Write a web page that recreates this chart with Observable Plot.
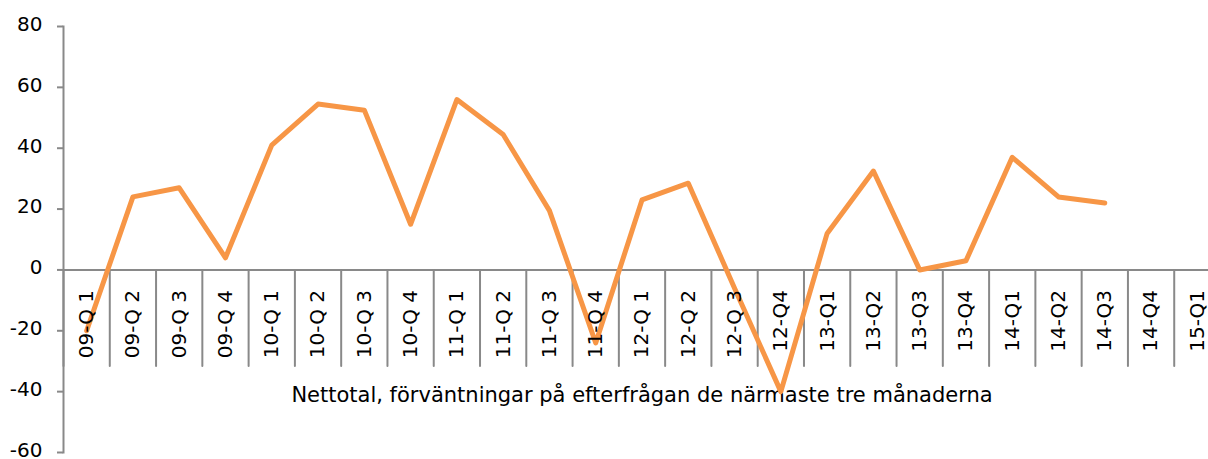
<!DOCTYPE html>
<html>
<head>
<meta charset="utf-8">
<script src="https://cdn.jsdelivr.net/npm/d3@7"></script>
<script src="https://cdn.jsdelivr.net/npm/@observablehq/plot@0.6"></script>
<style>
  html, body { margin: 0; padding: 0; background: #fff; }
  #chart svg { display: block; }
</style>
</head>
<body>
<div id="chart"></div>
<script>
const categories = ["09-Q 1","09-Q 2","09-Q 3","09-Q 4","10-Q 1","10-Q 2","10-Q 3","10-Q 4","11-Q 1","11-Q 2","11-Q 3","11-Q 4","12-Q 1","12-Q 2","12-Q 3","12-Q4","13-Q1","13-Q2","13-Q3","13-Q4","14-Q1","14-Q2","14-Q3","14-Q4","15-Q1"];
const values = [-20, 24, 27, 4, 41, 54.5, 52.5, 15, 56, 44.5, 19.5, -24, 23, 28.5, -6, -40, 12, 32.5, 0, 3, 37, 24, 22];
const yTicks = [-60, -40, -20, 0, 20, 40, 60, 80];
const caption = "Nettotal, förväntningar på efterfrågan de närmaste tre månaderna";

const idx = categories.map((_, i) => i);
const bounds = d3.range(categories.length + 1).map(i => i - 0.5);
const series = values.map((v, i) => ({i, v}));

const gray = "#898989";
const font = "DejaVu Sans";

const tickShape = {draw(context, l) { context.moveTo(0, 0); context.lineTo(0, -l); }};

const chart = Plot.plot({
  width: 1208,
  height: 459,
  marginTop: 26,
  marginBottom: 7,
  marginLeft: 63,
  marginRight: 0,
  style: {fontFamily: font, background: "#fff"},
  x: {type: "linear", domain: [-0.5, categories.length - 0.5], range: [63, 1220], axis: null},
  y: {domain: [-60, 80], axis: null},
  marks: [
    Plot.text([caption], {x: [d3.mean(idx)], frameAnchor: "bottom", dy: -51, fontSize: 21, fill: "#000", fontFamily: font}),
    Plot.axisY({ticks: yTicks, label: null, tickSize: 6, tickFormat: () => "", stroke: gray, strokeWidth: 2}),
    Plot.axisY({ticks: yTicks, label: null, tickSize: 0, tickPadding: 21, fontSize: 20, fill: "#000", tickFormat: d => String(d), dy: -2}),
    Plot.frame({anchor: "left", stroke: gray, strokeWidth: 2}),
    Plot.ruleY([0], {stroke: gray, strokeWidth: 2}),
    Plot.vector(bounds, {x: d => d, y: 0, length: 96, rotate: 180, anchor: "start", shape: tickShape, stroke: gray, strokeWidth: 2}),
    Plot.line(series, {x: "i", y: "v", stroke: "#F79646", strokeWidth: 5, strokeLinejoin: "round", strokeLinecap: "round"}),
    Plot.text(categories, {x: (d, i) => i, y: 0, rotate: -90, textAnchor: "end", dy: 20, fontSize: 20, fill: "#000", fontFamily: font})
  ]
});
document.getElementById("chart").appendChild(chart);
</script>
</body>
</html>
